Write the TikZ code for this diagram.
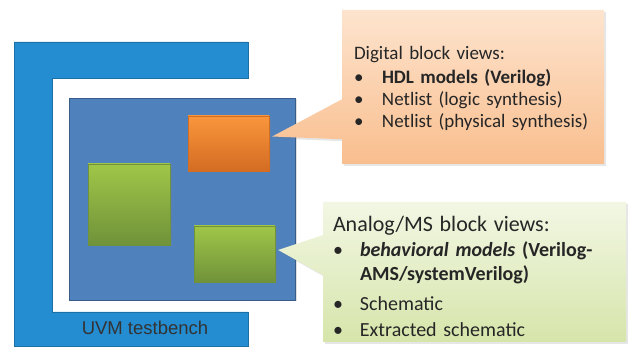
\documentclass[tikz,border=0pt]{standalone}
\usepackage{fontspec}
\setmainfont{Carlito}
\newfontfamily\tbfont{Liberation Sans}
\usetikzlibrary{calc}
\usetikzlibrary{shapes.callouts}
\usetikzlibrary{shadows}

\definecolor{tbblue}{RGB}{36,140,208}
\definecolor{dutblue}{RGB}{79,129,189}
\definecolor{dutedge}{RGB}{56,93,138}
\definecolor{orgtop}{RGB}{249,150,60}
\definecolor{orgbot}{RGB}{212,108,34}
\definecolor{grntop}{RGB}{160,198,72}
\definecolor{grnbot}{RGB}{112,146,58}
\definecolor{peachtop}{RGB}{253,228,206}
\definecolor{peachbot}{RGB}{249,190,142}
\definecolor{limetop}{RGB}{242,247,228}
\definecolor{limebot}{RGB}{214,229,170}

\begin{document}
\begin{tikzpicture}[x=1pt,y=1pt,
  block/.style={draw=#1, line width=.4pt, inner sep=0pt, drop shadow={opacity=.25, shadow xshift=1.5pt, shadow yshift=-1.5pt}},
  views/.style={rectangle callout, callout pointer width=40pt,
    drop shadow={opacity=.2, shadow xshift=2pt, shadow yshift=-2pt}},
  viewlist/.style={align=left, inner ysep=0pt, text=black!85}]
\useasboundingbox (0,0) rectangle (628,352);

% testbench frame
\filldraw[tbblue, draw=tbblue!80!black, line width=.4pt]
  (14,6) -- (248,6) -- (248,40) -- (52,40) -- (52,274) -- (248,274) -- (248,310) -- (14,310) -- cycle;
\node[font=\tbfont\fontsize{18.5}{18}\selectfont, text=black!80] (tb) at (145,24) {UVM testbench};

% design under test and its blocks
\node[block=dutedge, fill=dutblue, minimum width=226pt, minimum height=202pt] (dut) at (182,153) {};
\node[block=orgbot, top color=orgtop, bottom color=orgbot, minimum width=81pt, minimum height=55pt] (orange) at (228.5,208.5) {};
\node[block=grnbot, top color=grntop, bottom color=grnbot, minimum width=82pt, minimum height=81pt] (biggreen) at (129,147.5) {};
\node[block=grnbot, top color=grntop, bottom color=grnbot, minimum width=81pt, minimum height=56pt] (green) at (234.5,98) {};

\coordinate (dtip) at ($(orange.east)+(3,7)$);
\coordinate (atip) at ($(green.east)+(3,4)$);

% callouts
\node[views, top color=peachtop, bottom color=peachbot, minimum width=262pt, minimum height=154pt,
  callout absolute pointer={(dtip)}] (digital) at (473,265) {};
\node[viewlist, inner xsep=12pt, text width=238pt, font=\fontsize{19}{22}\selectfont]
  (digitaltext) at ($(digital.center)+(0,-2)$) {%
  \begin{tabular}{@{}p{28pt}@{}l@{}}
  \multicolumn{2}{@{}l@{}}{Digital block views:}\\[2pt]
  \textbullet & \textbf{HDL models (Verilog)}\\
  \textbullet & Netlist (logic synthesis)\\
  \textbullet & Netlist (physical synthesis)
  \end{tabular}};

\node[views, top color=limetop, bottom color=limebot, minimum width=303pt, minimum height=140pt,
  callout absolute pointer={(atip)}] (analog) at (474.5,80) {};
\node[viewlist, inner xsep=10pt, text width=283pt, font=\fontsize{20}{24}\selectfont]
  (analogtext) at ($(analog.center)+(0,-7)$) {%
  \begin{tabular}{@{}p{27pt}@{}l@{}}
  \multicolumn{2}{@{}l@{}}{\fontsize{22}{24}\selectfont Analog/MS block views:}\\[1pt]
  \textbullet & \textbf{\textit{behavioral models} (Verilog-}\\
   & \textbf{AMS/systemVerilog)}\\[6pt]
  \textbullet & Schematic\\[2pt]
  \textbullet & Extracted schematic
  \end{tabular}};

\end{tikzpicture}
\end{document}
